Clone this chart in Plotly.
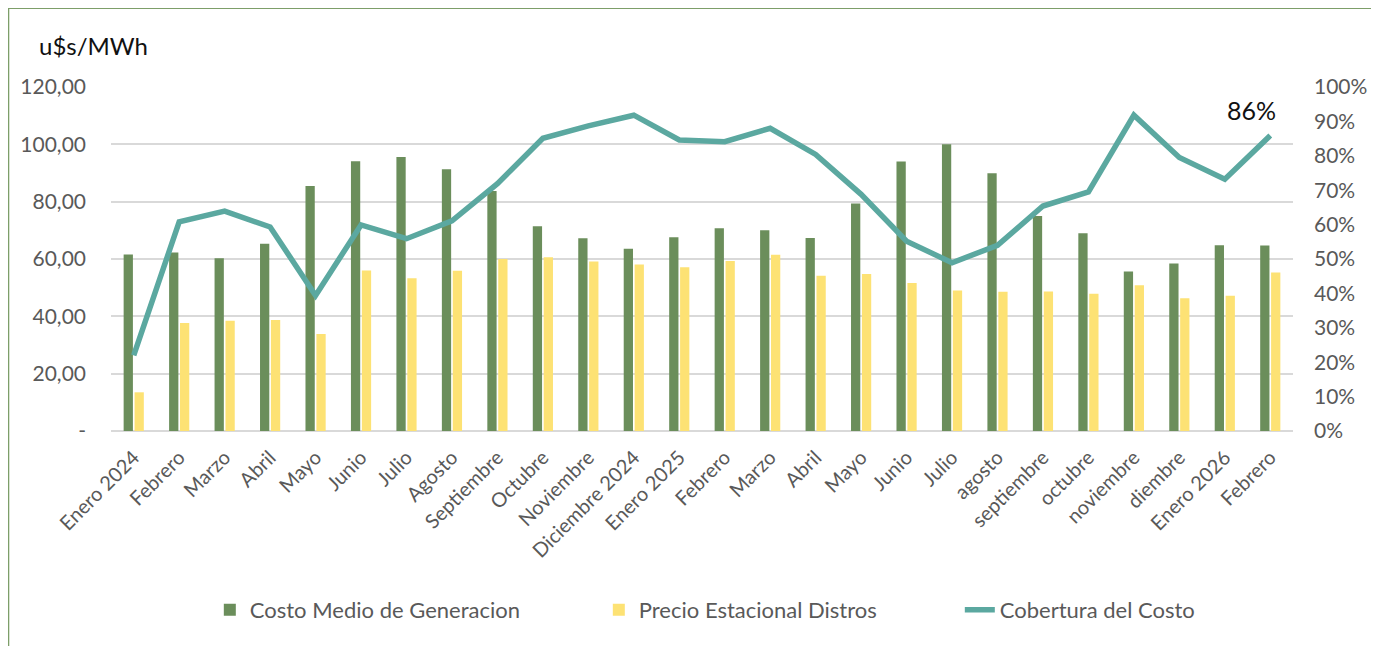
import plotly.graph_objects as go

etiquetas = ["Enero 2024", "Febrero", "Marzo", "Abril", "Mayo", "Junio", "Julio",
             "Agosto", "Septiembre", "Octubre", "Noviembre", "Diciembre 2024",
             "Enero 2025", "Febrero", "Marzo", "Abril", "Mayo", "Junio", "Julio",
             "agosto", "septiembre", "octubre", "noviembre", "diembre",
             "Enero 2026", "Febrero"]
posiciones = list(range(len(etiquetas)))

costo_medio = [61.6, 62.3, 60.3, 65.3, 85.5, 94.1, 95.6, 91.3, 83.7, 71.4, 67.2, 63.6,
               67.6, 70.7, 70.0, 67.3, 79.4, 94.0, 100.0, 89.9, 75.0, 69.0, 55.6, 58.4,
               64.8, 64.7]
precio_estacional = [13.5, 37.7, 38.5, 38.7, 33.8, 56.0, 53.3, 55.9, 60.0, 60.6, 59.1, 58.1,
                     57.1, 59.3, 61.5, 54.2, 54.8, 51.6, 49.0, 48.6, 48.7, 47.9, 50.8, 46.3,
                     47.2, 55.3]
cobertura = [22.0, 60.8, 63.9, 59.3, 39.4, 59.9, 55.9, 61.1, 71.9, 85.1, 88.7, 91.8,
             84.6, 84.1, 88.0, 80.4, 68.8, 55.2, 48.9, 54.0, 65.4, 69.5, 91.8, 79.5,
             73.2, 85.9]

left_vals = [0, 20, 40, 60, 80, 100, 120]
left_text = ["-", "20,00", "40,00", "60,00", "80,00", "100,00", "120,00"]
right_vals = [0, 10, 20, 30, 40, 50, 60, 70, 80, 90, 100]
right_text = [f"{v}%" for v in right_vals]

FONT = "Lato"
GRAY = "#595959"

fig = go.Figure()
fig.add_trace(go.Bar(x=posiciones, y=costo_medio, name="Costo Medio de Generacion",
                     legendwidth=344,
                     marker=dict(color="#6B8E5B", line=dict(width=0))))
fig.add_trace(go.Bar(x=posiciones, y=precio_estacional, name="Precio Estacional Distros",
                     legendwidth=316,
                     marker=dict(color="#FDE274", line=dict(width=0))))
fig.add_trace(go.Scatter(x=posiciones, y=cobertura, name="Cobertura del Costo",
                         mode="lines", yaxis="y2",
                         line=dict(color="#5BA8A0", width=5.5)))

fig.add_annotation(x=posiciones[-1], y=cobertura[-1], xref="x", yref="y2",
                   text=f"{round(cobertura[-1])}%", showarrow=False,
                   xshift=-19, yshift=26,
                   font=dict(family=FONT, size=25, color="#111111"))
fig.add_annotation(x=-0.0625, y=1.122, xref="paper", yref="paper",
                   xanchor="left", yanchor="middle", text="u$s/MWh", showarrow=False,
                   font=dict(family=FONT, size=24, color="#111111"))

# outer frame
fig.add_shape(type="rect", xref="paper", yref="paper",
              x0=-0.0869, x1=1.0684, y0=-0.70, y1=1.2297,
              line=dict(color="#7D9E69", width=2), fillcolor="rgba(0,0,0,0)")

fig.update_layout(
    width=1371, height=638,
    margin=dict(l=100, r=86, t=79, b=215),
    paper_bgcolor="white", plot_bgcolor="white",
    font=dict(family=FONT, color=GRAY),
    barmode="group", bargap=0.52, bargroupgap=0.15,
    showlegend=True,
    legend=dict(orientation="h", x=0.0836, xanchor="left", y=-0.52, yanchor="middle",
                font=dict(family=FONT, size=22, color=GRAY),
                entrywidthmode="pixels",
                bgcolor="rgba(0,0,0,0)"),
    xaxis=dict(range=[-0.5, len(etiquetas) - 0.5], tickmode="array",
               tickvals=posiciones, ticktext=etiquetas, tickangle=-45,
               tickfont=dict(family=FONT, size=20, color=GRAY),
               showgrid=False, zeroline=False, showline=False, ticks="",
               ticklabelstandoff=10),
    yaxis=dict(range=[0, 120], tickmode="array", tickvals=left_vals, ticktext=left_text,
               tickfont=dict(family=FONT, size=21, color=GRAY),
               showgrid=True, gridcolor="#D9D9D9", gridwidth=1.5,
               zeroline=True, zerolinecolor="#D9D9D9", zerolinewidth=1.5,
               ticks="", ticklabelstandoff=24),
    yaxis2=dict(range=[0, 100], overlaying="y", side="right", tickmode="array",
                tickvals=right_vals, ticktext=right_text,
                tickfont=dict(family=FONT, size=21, color=GRAY),
                showgrid=False, zeroline=False, ticks="", ticklabelstandoff=20),
)

fig.write_html("out.html")
